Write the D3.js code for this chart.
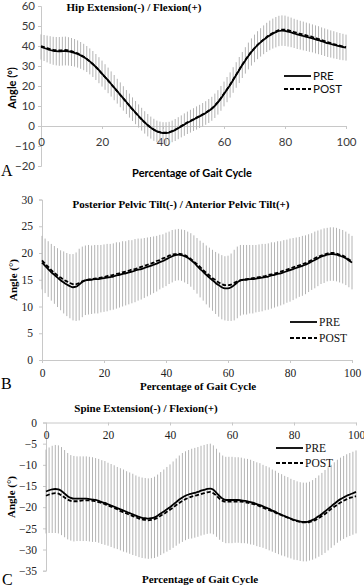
<!DOCTYPE html>
<html><head><meta charset="utf-8">
<script src="https://cdn.jsdelivr.net/npm/d3@7"></script>
<style>body{margin:0;background:#fff}svg{display:block}</style>
</head><body><svg id="chart" width="364" height="587"></svg>
<script>
// ---------- DATA ----------
const gaitPct = d3.range(0, 101); // 0..100 % of gait cycle
const xTicks = [0, 20, 40, 60, 80, 100];
const seriesNames = ["PRE", "POST"];

const hipTitle = "Hip Extension(-) / Flexion(+)";
const hipYTicks = [-20, -10, 0, 10, 20, 30, 40, 50, 60];
const hipPre = [39.5,39.0,38.5,38.0,37.6,37.4,37.3,37.4,37.5,37.3,37.0,36.6,36.0,35.3,34.5,33.5,32.3,31.0,29.5,27.9,26.2,24.5,22.8,21.0,19.2,17.4,15.6,13.8,12.0,10.2,8.4,6.7,5.0,3.4,1.8,0.4,-0.8,-1.9,-2.7,-3.2,-3.5,-3.5,-3.3,-2.7,-2.0,-1.1,-0.2,0.7,1.6,2.4,3.2,4.0,4.8,5.6,6.5,7.5,8.6,10.1,11.8,13.8,16.0,18.2,20.5,23.0,25.5,28.0,30.5,32.8,35.0,37.0,38.8,40.4,41.8,43.1,44.3,45.3,46.2,46.9,47.5,47.7,47.6,47.2,46.8,46.3,45.8,45.4,45.0,44.6,44.2,43.8,43.3,42.9,42.4,41.9,41.4,41.0,40.6,40.2,39.8,39.5,39.2];
const hipPost = [40.0,39.5,39.0,38.5,38.1,37.9,37.8,37.9,38.0,37.8,37.4,36.9,36.3,35.5,34.6,33.5,32.3,30.9,29.4,27.8,26.1,24.4,22.7,20.9,19.1,17.3,15.5,13.7,11.9,10.1,8.3,6.6,4.9,3.3,1.8,0.4,-0.8,-1.8,-2.6,-3.1,-3.3,-3.3,-3.1,-2.5,-1.8,-0.9,0.0,0.9,1.8,2.6,3.4,4.2,5.0,5.8,6.7,7.7,8.8,10.3,12.0,14.0,16.2,18.4,20.7,23.2,25.7,28.2,30.7,33.0,35.2,37.2,39.0,40.6,42.0,43.3,44.5,45.6,46.5,47.3,47.9,48.2,48.2,47.9,47.5,47.0,46.5,46.1,45.7,45.3,44.9,44.5,44.0,43.5,43.0,42.5,42.0,41.5,41.0,40.6,40.2,39.8,39.4];
const hipSd = [6.3,6.5,6.7,6.9,7.0,7.1,7.2,7.2,7.2,7.1,7.0,6.9,6.8,6.7,6.6,6.5,6.5,6.5,6.5,6.5,6.5,6.4,6.4,6.3,6.3,6.2,6.2,6.1,6.0,6.0,5.9,5.8,5.8,5.7,5.6,5.6,5.5,5.5,5.4,5.4,5.4,5.4,5.4,5.4,5.5,5.5,5.5,5.6,5.6,5.7,5.7,5.8,5.8,5.9,5.9,6.0,6.0,6.1,6.1,6.2,6.2,6.3,6.3,6.4,6.4,6.5,6.5,6.6,6.7,6.8,6.9,7.0,7.1,7.2,7.3,7.4,7.5,7.6,7.6,7.6,7.6,7.5,7.4,7.3,7.3,7.2,7.2,7.1,7.1,7.0,7.0,7.0,6.9,6.9,6.9,6.8,6.8,6.7,6.7,6.6,6.5];

const pelvisTitle = "Posterior Pelvic Tilt(-) / Anterior Pelvic Tilt(+)";
const pelvisYTicks = [0, 5, 10, 15, 20, 25, 30];
const pelvisPre = [18.2,17.6,17.0,16.4,15.9,15.4,14.9,14.5,14.1,13.8,13.6,13.7,14.1,14.6,14.9,15.0,15.0,15.1,15.1,15.2,15.3,15.4,15.5,15.6,15.8,15.9,16.1,16.2,16.4,16.5,16.7,16.9,17.0,17.2,17.4,17.6,17.8,18.0,18.3,18.5,18.8,19.1,19.4,19.6,19.7,19.6,19.4,19.1,18.7,18.2,17.6,17.0,16.5,15.9,15.4,14.9,14.4,14.0,13.6,13.4,13.4,13.6,14.0,14.5,14.9,15.0,15.0,15.1,15.1,15.2,15.3,15.4,15.5,15.6,15.8,15.9,16.1,16.2,16.4,16.6,16.8,17.0,17.2,17.4,17.6,17.8,18.1,18.4,18.7,19.0,19.3,19.5,19.7,19.8,19.8,19.7,19.5,19.3,19.0,18.6,18.2];
const pelvisPost = [18.6,18.0,17.4,16.8,16.3,15.8,15.4,15.0,14.7,14.4,14.2,14.2,14.4,14.7,14.9,15.0,15.1,15.2,15.3,15.4,15.5,15.7,15.8,15.9,16.1,16.2,16.4,16.5,16.7,16.9,17.0,17.2,17.4,17.6,17.8,18.0,18.2,18.5,18.7,19.0,19.2,19.5,19.7,19.8,19.9,19.8,19.6,19.3,18.9,18.4,17.9,17.4,16.8,16.3,15.8,15.3,14.9,14.5,14.2,14.0,14.0,14.1,14.4,14.7,14.9,15.0,15.1,15.2,15.3,15.4,15.5,15.6,15.7,15.9,16.0,16.2,16.3,16.5,16.7,16.9,17.1,17.3,17.5,17.7,17.9,18.1,18.4,18.7,19.0,19.3,19.5,19.7,19.9,20.0,20.0,19.9,19.7,19.5,19.2,18.8,18.4];
const pelvisSd = [5.0,5.1,5.2,5.3,5.4,5.5,5.6,5.8,5.9,6.0,6.2,6.4,6.7,6.6,6.5,6.5,6.4,6.4,6.4,6.3,6.3,6.3,6.2,6.2,6.2,6.1,6.1,6.0,6.0,5.9,5.9,5.8,5.7,5.6,5.5,5.4,5.3,5.2,5.1,5.0,5.0,4.9,4.9,4.8,4.8,4.8,4.9,4.9,5.0,5.1,5.2,5.3,5.4,5.5,5.6,5.7,5.8,5.9,6.0,6.0,6.1,6.3,6.6,6.7,6.6,6.5,6.5,6.4,6.4,6.3,6.3,6.3,6.2,6.2,6.2,6.1,6.1,6.0,6.0,5.9,5.9,5.8,5.7,5.6,5.6,5.5,5.4,5.3,5.3,5.2,5.1,5.1,5.0,5.0,5.0,5.0,5.0,5.0,5.0,5.0,5.0];

const spineTitle = "Spine Extension(-) / Flexion(+)";
const spineYTicks = [-35, -30, -25, -20, -15, -10, -5, 0];
const spinePre = [-16.3,-16.0,-15.8,-15.7,-15.8,-16.2,-16.8,-17.4,-17.8,-18.0,-18.0,-18.0,-18.0,-18.0,-18.1,-18.2,-18.3,-18.5,-18.8,-19.0,-19.3,-19.6,-19.9,-20.2,-20.5,-20.8,-21.1,-21.4,-21.7,-22.0,-22.3,-22.5,-22.6,-22.7,-22.6,-22.4,-22.0,-21.5,-21.0,-20.5,-20.0,-19.4,-18.8,-18.2,-17.7,-17.3,-17.0,-16.8,-16.6,-16.4,-16.1,-15.9,-15.7,-15.6,-15.9,-16.6,-17.4,-18.0,-18.3,-18.3,-18.3,-18.3,-18.3,-18.4,-18.5,-18.6,-18.8,-19.0,-19.3,-19.5,-19.8,-20.1,-20.4,-20.8,-21.1,-21.5,-21.8,-22.1,-22.4,-22.7,-23.0,-23.2,-23.4,-23.5,-23.5,-23.3,-23.0,-22.6,-22.1,-21.6,-21.0,-20.4,-19.8,-19.2,-18.6,-18.1,-17.7,-17.3,-17.0,-16.7,-16.4];
const spinePost = [-17.3,-17.0,-16.8,-16.7,-16.8,-17.2,-17.7,-18.2,-18.5,-18.6,-18.6,-18.5,-18.4,-18.4,-18.4,-18.5,-18.6,-18.8,-19.0,-19.3,-19.6,-19.9,-20.2,-20.5,-20.9,-21.2,-21.5,-21.8,-22.1,-22.4,-22.7,-22.9,-23.0,-23.1,-23.0,-22.8,-22.5,-22.0,-21.6,-21.1,-20.6,-20.1,-19.5,-19.0,-18.5,-18.1,-17.8,-17.5,-17.3,-17.1,-16.9,-16.7,-16.5,-16.4,-16.7,-17.3,-18.0,-18.5,-18.7,-18.7,-18.7,-18.7,-18.7,-18.7,-18.8,-18.9,-19.1,-19.3,-19.5,-19.8,-20.1,-20.4,-20.7,-21.0,-21.3,-21.6,-21.9,-22.2,-22.5,-22.8,-23.1,-23.3,-23.5,-23.6,-23.6,-23.5,-23.3,-23.0,-22.6,-22.1,-21.6,-21.0,-20.4,-19.9,-19.4,-18.9,-18.5,-18.1,-17.8,-17.6,-17.4];
const spineSd = [9.9,10.1,10.3,10.4,10.4,10.4,10.3,10.2,10.1,10.1,10.0,10.0,10.0,10.0,10.0,10.0,9.9,9.9,9.9,9.9,9.8,9.8,9.8,9.7,9.7,9.7,9.6,9.6,9.6,9.5,9.5,9.5,9.5,9.5,9.5,9.6,9.7,9.8,9.9,10.0,10.1,10.2,10.3,10.4,10.5,10.5,10.5,10.6,10.6,10.6,10.6,10.6,10.6,10.6,10.5,10.4,10.3,10.2,10.2,10.2,10.2,10.1,10.1,10.1,10.0,10.0,10.0,9.9,9.9,9.9,9.8,9.8,9.8,9.7,9.7,9.6,9.6,9.5,9.5,9.4,9.4,9.3,9.3,9.3,9.3,9.3,9.4,9.5,9.6,9.7,9.8,9.8,9.8,9.8,9.8,9.8,9.8,9.8,9.8,9.8,9.8];

// ---------- LAYOUT ----------
const svg = d3.select("#chart");
const SANS = "Lato, 'Liberation Sans', sans-serif";
const SERIF = "'Liberation Serif', 'Times New Roman', serif";

const panels = [
  { letter: "A", title: hipTitle, pre: hipPre, post: hipPost, sd: hipSd,
    yDomain: [-20, 60], yTicks: hipYTicks,
    xr: [41, 346], yr: [166, 6], tickFont: SANS, labelFont: SANS, tickColor: "#3a3a3a",
    yLabelEnd: 35, xLabelDy: 20, titleX: 134, titleY: 11, yTitleX: 16, yTitleY: 88,
    xTitleX: 192, xTitleY: 177, letterX: 1, letterY: 176, legendX: 284, legendY: [76, 89] },
  { letter: "B", title: pelvisTitle, pre: pelvisPre, post: pelvisPost, sd: pelvisSd,
    yDomain: [0, 30], yTicks: pelvisYTicks,
    xr: [42, 352], yr: [360, 199.5], tickFont: SERIF, labelFont: SERIF, tickColor: "#222",
    yLabelEnd: 33, xLabelDy: 17, titleX: 181, titleY: 208, yTitleX: 17, yTitleY: 280,
    xTitleX: 198, xTitleY: 390, letterX: 1, letterY: 389, legendX: 290, legendY: [322, 338] },
  { letter: "C", title: spineTitle, pre: spinePre, post: spinePost, sd: spineSd,
    yDomain: [-35, 0], yTicks: spineYTicks,
    xr: [46, 356], yr: [570.7, 422.5], tickFont: SERIF, labelFont: SERIF, tickColor: "#222",
    yLabelEnd: 37, xLabelDy: 16.5, titleX: 146, titleY: 412, yTitleX: 15, yTitleY: 497,
    xTitleX: 200, xTitleY: 583, letterX: 2, letterY: 585, legendX: 276, legendY: [448, 463] }
];

panels.forEach(p => {
  const x = d3.scaleLinear().domain([0, 100]).range(p.xr);
  const y = d3.scaleLinear().domain(p.yDomain).range(p.yr);
  const g = svg.append("g");
  const axisColor = "#c8c8c8";

  // y axis
  const yAx = g.append("g").attr("transform", `translate(${p.xr[0]},0)`)
    .call(d3.axisLeft(y).tickValues(p.yTicks).tickSize(3).tickPadding(4).tickFormat(d3.format("d")));
  yAx.select(".domain").attr("stroke", axisColor);
  yAx.selectAll(".tick line").attr("stroke", axisColor);
  yAx.selectAll(".tick text").attr("font-family", p.tickFont).attr("font-size", 11.5)
    .attr("fill", p.tickColor).attr("x", p.yLabelEnd - p.xr[0]);

  // x axis at y = 0
  const xAx = g.append("g").attr("transform", `translate(0,${y(0)})`)
    .call(d3.axisBottom(x).tickValues(xTicks).tickSize(3).tickPadding(4).tickSizeOuter(0));
  xAx.select(".domain").attr("stroke", axisColor);
  xAx.selectAll(".tick line").attr("stroke", axisColor);
  xAx.selectAll(".tick text").attr("font-family", p.tickFont).attr("font-size", 11.5)
    .attr("fill", p.tickColor).attr("y", p.xLabelDy).attr("dy", 0);

  // SD bars
  g.append("g").selectAll("line").data(gaitPct).join("line")
    .attr("x1", i => x(i)).attr("x2", i => x(i))
    .attr("y1", i => y(p.pre[i] + p.sd[i])).attr("y2", i => y(p.pre[i] - p.sd[i]))
    .attr("stroke", "#b4b4b4").attr("stroke-width", 1);

  const line = arr => d3.line().x(i => x(i)).y(i => y(arr[i])).curve(d3.curveMonotoneX)(gaitPct);
  g.append("path").attr("d", line(p.post)).attr("fill", "none").attr("stroke", "#000")
    .attr("stroke-width", 1.8).attr("stroke-dasharray", "4,2");
  g.append("path").attr("d", line(p.pre)).attr("fill", "none").attr("stroke", "#000")
    .attr("stroke-width", 1.8);

  // legend
  seriesNames.forEach((name, k) => {
    g.append("line").attr("x1", p.legendX).attr("x2", p.legendX + 27)
      .attr("y1", p.legendY[k]).attr("y2", p.legendY[k]).attr("stroke", "#000")
      .attr("stroke-width", 1.8).attr("stroke-dasharray", k ? "4,2" : null);
    g.append("text").attr("x", p.legendX + 29).attr("y", p.legendY[k]).attr("dy", "0.35em")
      .attr("font-family", p.labelFont).attr("font-size", 11.5).attr("fill", "#111").text(name);
  });

  // titles
  g.append("text").attr("x", p.titleX).attr("y", p.titleY).attr("text-anchor", "middle")
    .attr("font-family", SERIF).attr("font-weight", "bold").attr("font-size", 11).text(p.title);
  g.append("text").attr("transform", `translate(${p.yTitleX},${p.yTitleY}) rotate(-90)`)
    .attr("text-anchor", "middle").attr("font-family", p.labelFont).attr("font-weight", "bold")
    .attr("font-size", 11).text("Angle (°)");
  g.append("text").attr("x", p.xTitleX).attr("y", p.xTitleY).attr("text-anchor", "middle")
    .attr("font-family", p.labelFont).attr("font-weight", "bold").attr("font-size", 11)
    .text("Percentage of Gait Cycle");
  g.append("text").attr("x", p.letterX).attr("y", p.letterY)
    .attr("font-family", SERIF).attr("font-size", 16).text(p.letter);
});
</script></body></html>
